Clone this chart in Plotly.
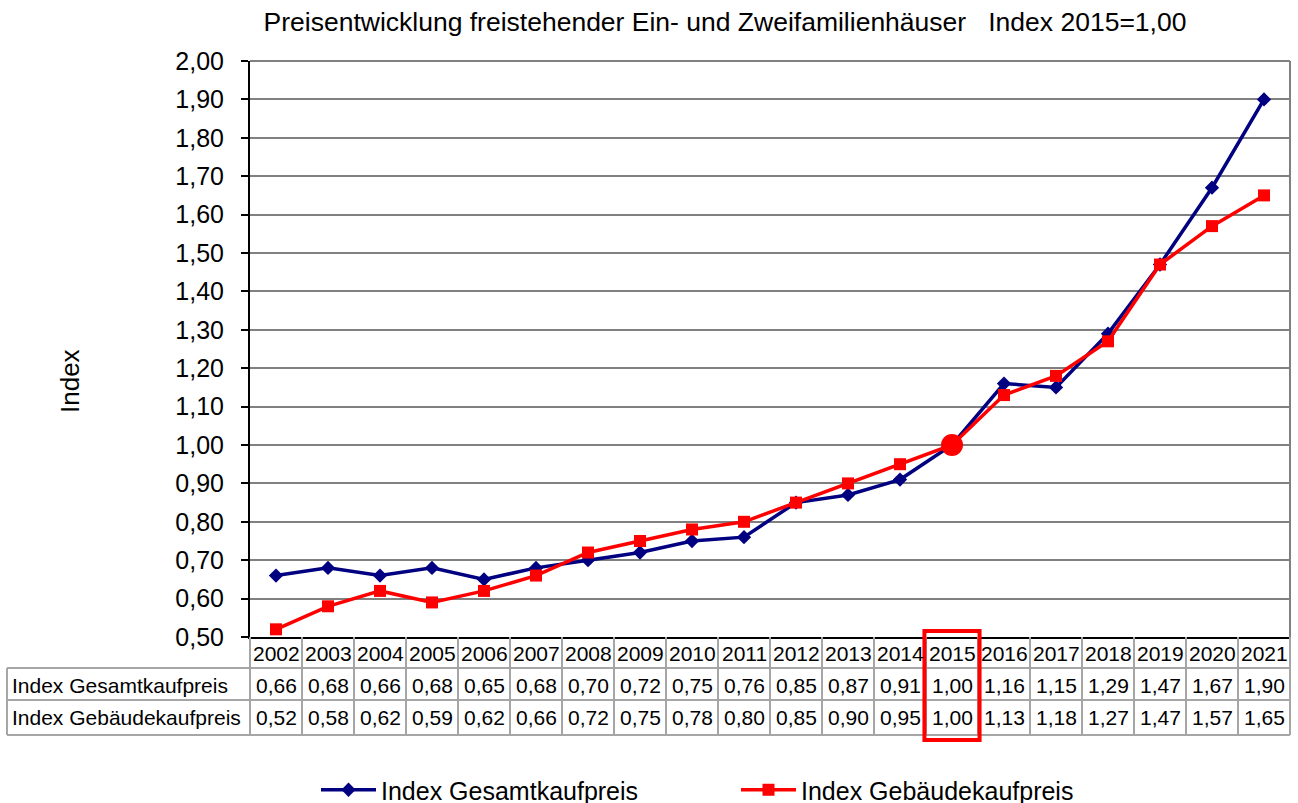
import plotly.graph_objects as go

# Data: price index of detached one- and two-family houses (2015 = 1,00)
years = [str(y) for y in range(2002, 2022)]
gesamt = [0.66, 0.68, 0.66, 0.68, 0.65, 0.68, 0.70, 0.72, 0.75, 0.76,
          0.85, 0.87, 0.91, 1.00, 1.16, 1.15, 1.29, 1.47, 1.67, 1.90]
gebaeude = [0.52, 0.58, 0.62, 0.59, 0.62, 0.66, 0.72, 0.75, 0.78, 0.80,
            0.85, 0.90, 0.95, 1.00, 1.13, 1.18, 1.27, 1.47, 1.57, 1.65]
name_gesamt = "Index Gesamtkaufpreis"
name_gebaeude = "Index Gebäudekaufpreis"
base_year = "2015"

W, H = 1298, 803
ML, MR, MT, MB = 250, 8, 61, 166
plot_h = H - MT - MB
plot_w = W - ML - MR


def py(px):
    """pixel row -> paper y"""
    return (H - MB - px) / plot_h


def pxx(px):
    """pixel column -> paper x"""
    return (px - ML) / plot_w


FONT = "Liberation Sans, Arial, sans-serif"
NAVY = "#000080"
RED = "#FF0000"
GRID = "#808080"
TABLE_LINE = "#A6A6A6"

fig = go.Figure()
fig.add_trace(go.Scatter(
    x=years, y=gesamt, name=name_gesamt, mode="lines+markers",
    line=dict(color=NAVY, width=3.5),
    marker=dict(symbol="diamond", size=11, color=NAVY),
))
fig.add_trace(go.Scatter(
    x=years, y=gebaeude, name=name_gebaeude, mode="lines+markers",
    line=dict(color=RED, width=3.5),
    marker=dict(symbol="square", size=12, color=RED),
))
# highlight of the base year
bi = years.index(base_year)
fig.add_trace(go.Scatter(
    x=[base_year], y=[gebaeude[bi]], mode="markers", showlegend=False,
    marker=dict(symbol="circle", size=22, color=RED),
    hoverinfo="skip",
))

shapes = []
annotations = []
n = len(years)

# table rows (pixel rows of the horizontal rules)
row_top = H - MB
row_hdr = 668
row_1 = 700
row_2 = 735
label_left = 7

line_style = dict(color=TABLE_LINE, width=2)
# horizontal rules
for yy in (row_hdr, row_1, row_2):
    shapes.append(dict(type="line", xref="paper", yref="paper",
                       x0=pxx(label_left), x1=1, y0=py(yy), y1=py(yy),
                       line=line_style))
# vertical rules between year columns
for i in range(n + 1):
    shapes.append(dict(type="line", xref="paper", yref="paper",
                       x0=i / n, x1=i / n, y0=0, y1=py(row_2),
                       line=line_style))
# left border of the label column
shapes.append(dict(type="line", xref="paper", yref="paper",
                   x0=pxx(label_left), x1=pxx(label_left),
                   y0=py(row_hdr), y1=py(row_2), line=line_style))

# plot frame: grey top and right edges
shapes.append(dict(type="line", xref="paper", yref="paper", x0=0, x1=1,
                   y0=1, y1=1, line=dict(color=GRID, width=2)))
shapes.append(dict(type="line", xref="paper", yref="paper", x0=1, x1=1,
                   y0=0, y1=1, line=dict(color=GRID, width=2)))

# red frame around the base-year column
shapes.append(dict(type="rect", xref="paper", yref="paper",
                   x0=(bi - 0.03) / n, x1=(bi + 1.03) / n,
                   y0=py(740), y1=py(631),
                   line=dict(color=RED, width=4)))

cell_font = dict(family=FONT, size=21, color="black")
hdr_y = py((row_top + row_hdr) / 2 + 1)
r1_y = py((row_hdr + row_1) / 2 + 1)
r2_y = py((row_1 + row_2) / 2)


def fmt(v):
    return f"{v:.2f}".replace(".", ",")


# table cells, positioned by category index on the x axis
cell = dict(xref="x", yref="paper", xanchor="center", yanchor="middle",
            showarrow=False, font=cell_font)
for i, yr in enumerate(years):
    annotations.append(dict(x=i, y=hdr_y, text=yr, **cell))
    annotations.append(dict(x=i, y=r1_y, text=fmt(gesamt[i]), **cell))
    annotations.append(dict(x=i, y=r2_y, text=fmt(gebaeude[i]), **cell))

label = dict(xref="paper", yref="paper", xanchor="left", yanchor="middle",
             showarrow=False, font=cell_font)
annotations.append(dict(x=pxx(10), y=r1_y, text=name_gesamt, **label))
annotations.append(dict(x=pxx(10), y=r2_y, text=name_gebaeude, **label))

# y-axis title
annotations.append(dict(x=pxx(70), y=py(381), xref="paper", yref="paper",
                        xanchor="center", yanchor="middle",
                        text="Index", textangle=-90, showarrow=False,
                        font=dict(family=FONT, size=26, color="black")))

fig.update_layout(
    width=W, height=H,
    margin=dict(l=ML, r=MR, t=MT, b=MB, autoexpand=False),
    paper_bgcolor="white", plot_bgcolor="white",
    separators=",.",
    font=dict(family=FONT, color="black"),
    title=dict(
        text="Preisentwicklung freistehender Ein- und Zweifamilienhäuser"
             "&nbsp;&nbsp;&nbsp;Index 2015=1,00",
        x=725 / W, xanchor="center", xref="container",
        y=1 - 22 / H, yanchor="middle", yref="container",
        font=dict(family=FONT, size=26.5, color="black"),
    ),
    xaxis=dict(
        type="category", range=[-0.5, n - 0.5],
        showticklabels=False, ticks="", showgrid=False,
        showline=True, linecolor="black", linewidth=1.5,
        zeroline=False, fixedrange=True,
    ),
    yaxis=dict(
        range=[0.5, 2.0], dtick=0.1, tick0=0.5, tickformat=".2f",
        ticks="outside", ticklen=7, tickcolor="black", tickwidth=1.5,
        ticklabelstandoff=12,
        showline=True, linecolor="black", linewidth=2,
        showgrid=True, gridcolor=GRID, gridwidth=1.5,
        zeroline=False,
        tickfont=dict(family=FONT, size=25, color="black"),
    ),
    legend=dict(
        orientation="h", x=pxx(316), xanchor="left",
        y=py(790), yanchor="middle",
        font=dict(family=FONT, size=25, color="black"),
        entrywidth=350, entrywidthmode="pixels",
        itemwidth=55, bgcolor="rgba(0,0,0,0)",
    ),
    shapes=shapes,
    annotations=annotations,
    showlegend=True,
)

fig.write_html("out.html")
